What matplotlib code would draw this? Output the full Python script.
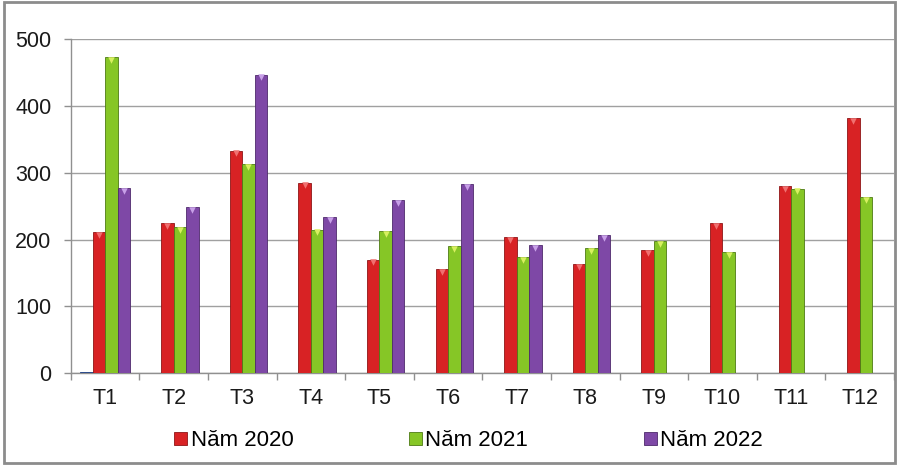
import matplotlib
matplotlib.use("Agg")
import matplotlib.pyplot as plt
import numpy as np
from matplotlib.patches import Rectangle

months = ["T1", "T2", "T3", "T4", "T5", "T6", "T7", "T8", "T9", "T10", "T11", "T12"]
y2019 = [2, 0, 0, 0, 0, 0, 0, 0, 0, 0, 0, 0]
y2020 = [211, 225, 333, 285, 170, 156, 204, 163, 184, 225, 280, 382]
y2021 = [473, 219, 313, 215, 213, 190, 174, 187, 198, 181, 276, 263]
y2022 = [277, 248, 447, 234, 259, 283, 192, 207, np.nan, np.nan, np.nan, np.nan]
legend_labels = ["Năm 2020", "Năm 2021", "Năm 2022"]
yticks = [0, 100, 200, 300, 400, 500]

plt.rcParams['font.family'] = ['Liberation Sans', 'DejaVu Sans']

fig = plt.figure(figsize=(9.01, 4.68), dpi=100)
ax = fig.add_axes([0.0785, 0.203, 0.9137, 0.713])

x = np.arange(len(months))
w = 0.182
series = [(y2019, "#2F5FB0", "#1F3F80", "#6F9FE0", None),
          (y2020, "#D82224", "#8E1517", "#F07070", legend_labels[0]),
          (y2021, "#86C626", "#4E7A14", "#D8F060", legend_labels[1]),
          (y2022, "#7E48A6", "#4E2A6C", "#C8A0E8", legend_labels[2])]
handles = []
for i, (vals, col, edge, light, lab) in enumerate(series):
    off = (i - 1.5) * w
    b = ax.bar(x + off, vals, width=w, color=col, edgecolor=edge, linewidth=0.6, label=lab, zorder=3)
    if lab is not None:
        handles.append(b)
        v = np.array(vals, dtype=float)
        ax.scatter(x + off, v - 4, marker="v", s=22, color=light, linewidths=0, zorder=4)

ax.set_xlim(-0.5, len(months) - 0.5)
ax.set_ylim(0, 500)
ax.set_yticks(yticks)
ax.set_yticklabels([str(v) for v in yticks], fontsize=15.5, color="#1a1a1a")
ax.set_xticks(x)
ax.set_xticklabels(months, fontsize=15.5, color="#1a1a1a")
ax.set_xticks(np.arange(-0.5, len(months)), minor=True)
ax.tick_params(axis='x', which='major', length=0, pad=11)
ax.tick_params(axis='x', which='minor', length=5, color="#909090", width=1)
ax.tick_params(axis='y', length=5, color="#909090", width=1, pad=9)
ax.yaxis.grid(True, color="#A0A0A0", linewidth=1, zorder=0)
ax.set_axisbelow(True)
for s in ["top", "right"]:
    ax.spines[s].set_visible(False)
for s in ["left", "bottom"]:
    ax.spines[s].set_color("#909090")
    ax.spines[s].set_linewidth(1)

leg = fig.legend(handles=handles, labels=legend_labels, loc="center", bbox_to_anchor=(0.52, 0.058),
                 ncol=3, frameon=False, fontsize=16, handlelength=0.58, handleheight=0.5,
                 handletextpad=0.15, columnspacing=5.2)

fig.patches.append(Rectangle((0.004, 0.011), 0.989, 0.984, transform=fig.transFigure,
                             fill=False, edgecolor="#8C8C8C", linewidth=2))

fig.savefig("out.png", dpi=100)
